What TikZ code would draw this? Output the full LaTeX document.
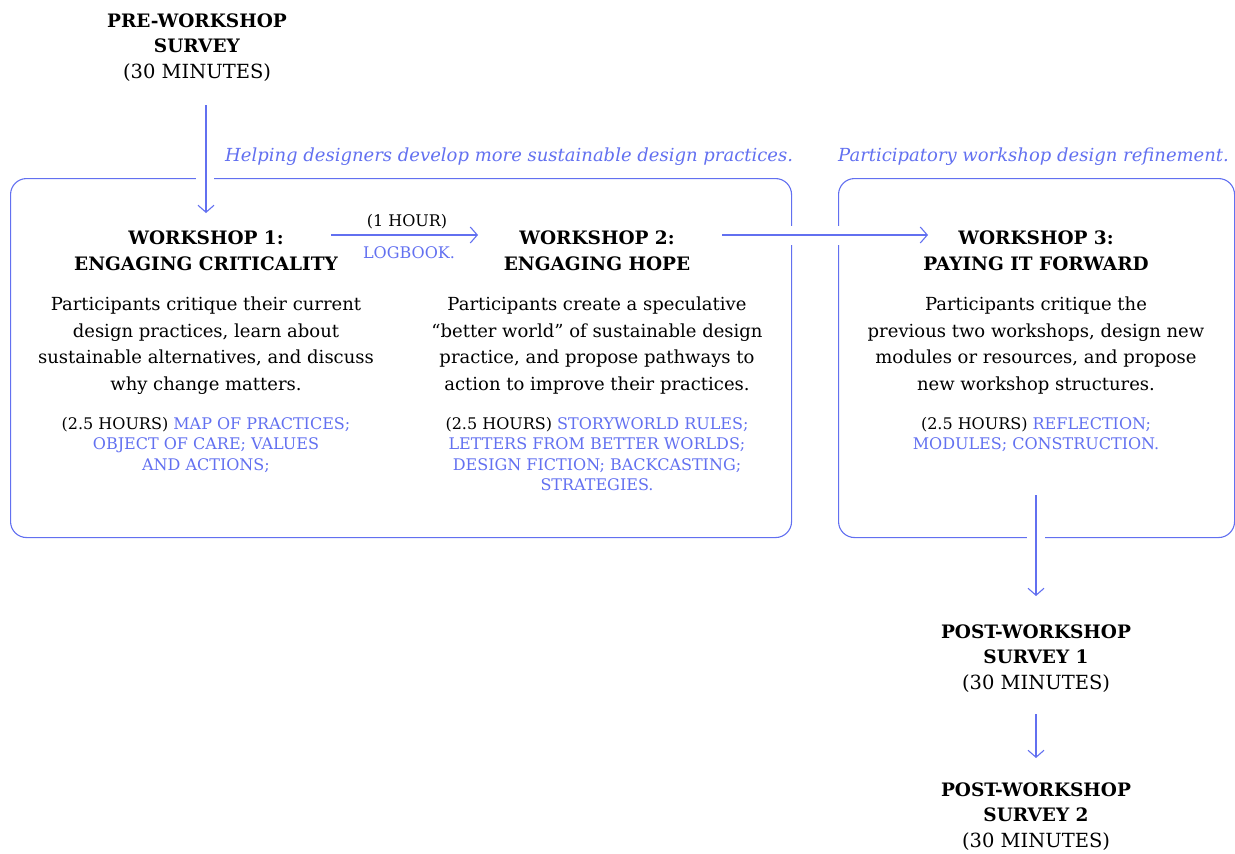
\documentclass[tikz,border=0pt]{standalone}
\usepackage{fontspec}
\setmainfont{DejaVu Serif}
\usetikzlibrary{arrows.meta,calc}
\definecolor{accent}{RGB}{98,112,240}
\newcommand{\hl}[1]{\textcolor{accent}{#1}}
\newcommand{\mins}{{\fontsize{19.5}{19.5}\selectfont(30 MINUTES)}}
\begin{document}
\begin{tikzpicture}[x=1pt,y=-1pt,
  arr/.style={draw=accent, line width=1.1pt, -{Straight Barb[length=7pt,width=16pt,line width=1.1pt]}},
  frame/.style={draw=accent, line width=1.1pt, rounded corners=16pt, inner sep=0pt, anchor=north west},
  head/.style={inner sep=0pt, anchor=north, align=center, font=\fontsize{18.5}{26}\selectfont\bfseries},
  body/.style={inner sep=0pt, anchor=north, align=center, font=\fontsize{18}{26.5}\selectfont},
  tags/.style={inner sep=0pt, anchor=north, align=center, font=\fontsize{16}{20.5}\selectfont},
  survey/.style={inner sep=0pt, anchor=north, align=center, font=\fontsize{18.5}{25}\selectfont},
  lab/.style={inner sep=0pt, anchor=north west, font=\fontsize{18}{20}\selectfont\itshape, text=accent},
  gap/.style={fill=white}
]
\useasboundingbox (0,0) rectangle (1235,854);

% frames around the workshop groups
\node[frame, minimum width=781pt, minimum height=359pt] (box1) at (10,178) {};
\node[frame, minimum width=396pt, minimum height=359pt] (box2) at (838,178) {};
\node[lab] (lab1) at (225,148) {Helping designers develop more sustainable design practices.};
\node[lab] (lab2) at (838,148) {Participatory workshop design refinement.};

% surveys
\node[survey] (pre) at (197,14) {\textbf{PRE-WORKSHOP}\\\textbf{SURVEY}\\[1pt]\mins};
\node[survey] (post1) at (1036,625) {\textbf{POST-WORKSHOP}\\\textbf{SURVEY 1}\\[1pt]\mins};
\node[survey] (post2) at (1036,783) {\textbf{POST-WORKSHOP}\\\textbf{SURVEY 2}\\[1pt]\mins};

% workshop 1
\node[head] (w1h) at (206,231) {WORKSHOP 1:\\ENGAGING CRITICALITY};
\node[body] (w1b) at (206,297) {Participants critique their current\\design practices, learn about\\sustainable alternatives, and discuss\\why change matters.};
\node[tags] (w1t) at (206,417) {(2.5 HOURS) \hl{MAP OF PRACTICES;}\\\hl{OBJECT OF CARE; VALUES}\\\hl{AND ACTIONS;}};

% workshop 2
\node[head] (w2h) at (597,231) {WORKSHOP 2:\\ENGAGING HOPE};
\node[body] (w2b) at (597,297) {Participants create a speculative\\``better world'' of sustainable design\\practice, and propose pathways to\\action to improve their practices.};
\node[tags] (w2t) at (597,417) {(2.5 HOURS) \hl{STORYWORLD RULES;}\\\hl{LETTERS FROM BETTER WORLDS;}\\\hl{DESIGN FICTION; BACKCASTING;}\\\hl{STRATEGIES.}};

% workshop 3
\node[head] (w3h) at (1036,231) {WORKSHOP 3:\\PAYING IT FORWARD};
\node[body] (w3b) at (1036,297) {Participants critique the\\previous two workshops, design new\\modules or resources, and propose\\new workshop structures.};
\node[tags] (w3t) at (1036,417) {(2.5 HOURS) \hl{REFLECTION;}\\\hl{MODULES; CONSTRUCTION.}};

% logbook between workshops 1 and 2
\node[tags, anchor=base] (hour) at (407,226) {(1 HOUR)};
\node[tags, anchor=base, text=accent] (logb) at (409,258) {LOGBOOK.};
\coordinate (w1out) at (331,235);
\coordinate (w2in) at (478,235);
\coordinate (w2out) at (722,235);
\coordinate (w3in) at (928,235);

% openings in the frames where arrows pass
\fill[gap] (196,172) rectangle (214,184);
\fill[gap] (785,226) rectangle (797,245);
\fill[gap] (832,226) rectangle (844,245);
\fill[gap] (1027,531) rectangle (1045,543);

% connectors
\draw[arr] (w1h.north |- 0,105) -- ([yshift=18pt]w1h.north);
\draw[arr] (w1out) -- (w2in);
\draw[arr] (w2out) -- (w3in);
\draw[arr] (w3t.south |- 0,495) -- ([yshift=29pt]post1.north);
\draw[arr] (post1.south |- 0,714) -- ([yshift=25pt]post2.north);
\end{tikzpicture}
\end{document}
